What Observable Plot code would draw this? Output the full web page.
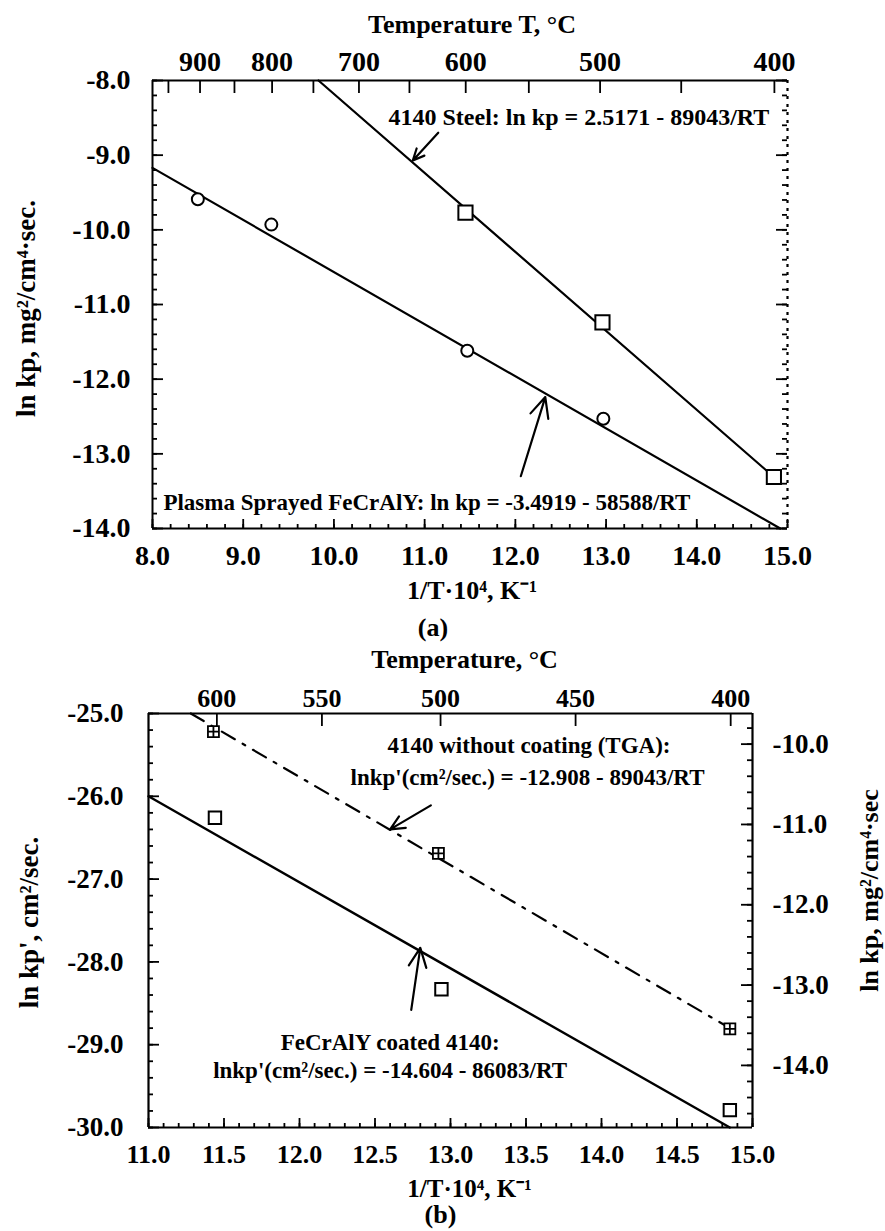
<!DOCTYPE html>
<html>
<head>
<meta charset="utf-8">
<script src="https://cdn.jsdelivr.net/npm/d3@7"></script>
<script src="https://cdn.jsdelivr.net/npm/@observablehq/plot@0.6"></script>
<style>
  html, body { margin: 0; padding: 0; background: #fff; }
  #wrap { position: relative; width: 885px; height: 1231px; background: #fff; overflow: hidden; }
  #wrap svg { position: absolute; left: 0; }
</style>
</head>
<body>
<div id="wrap"></div>
<script>
// ---------------- Panel (a) data ----------------
const aXTicks = [8, 9, 10, 11, 12, 13, 14, 15];
const aYTicks = [-8, -9, -10, -11, -12, -13, -14];
const aTempLabels = [900, 800, 700, 600, 500, 400];
const aTempTicks = [950, 900, 850, 800, 750, 700, 650, 600, 550, 500, 450, 400];
// Plasma sprayed FeCrAlY (circles)
const aFeX = [8.50, 9.31, 11.47, 12.97];
const aFeY = [-9.59, -9.93, -11.62, -12.53];
// 4140 steel (squares)
const aStX = [11.45, 12.96, 14.85];
const aStY = [-9.77, -11.24, -13.31];
// fitted lines (end points)
const aStFitX = [9.83, 14.85];
const aStFitY = [-8.0, -13.31];
const aFeFitX = [8.0, 14.92];
const aFeFitY = [-9.17, -14.0];
// leader arrows
const aArrows = [
  {x1: 11.15, y1: -8.70, x2: 10.87, y2: -9.07},
  {x1: 12.06, y1: -13.30, x2: 12.33, y2: -12.24}
];
const aNoteSteel = [{x: 14.80, y: -8.49, text: "4140 Steel: ln kp = 2.5171 - 89043/RT"}];
const aNoteFe = [{x: 8.12, y: -13.65, text: "Plasma Sprayed FeCrAlY: ln kp = -3.4919 - 58588/RT"}];

// ---------------- Panel (b) data ----------------
const bXTicks = [11, 11.5, 12, 12.5, 13, 13.5, 14, 14.5, 15];
const bYTicks = [-25, -26, -27, -28, -29, -30];
const bTempTicks = [600, 550, 500, 450, 400];
const bRightTicks = [-10, -11, -12, -13, -14];
// right axis read-off: right value -10 sits at left -25.37, right -14 at left -29.25
const bRightAnchorR = [-10, -14];
const bRightAnchorL = [-25.37, -29.25];
// 4140 without coating (TGA), crossed squares
const bTgaX = [11.43, 12.92, 14.85];
const bTgaY = [-25.22, -26.69, -28.81];
// FeCrAlY coated 4140, open squares
const bCoatX = [11.44, 12.94, 14.85];
const bCoatY = [-26.26, -28.33, -29.79];
const bTgaFitX = [11.28, 14.85];
const bTgaFitY = [-25.0, -28.80];
const bCoatFitX = [11.0, 14.85];
const bCoatFitY = [-26.0, -30.0];
const bArrows = [
  {x1: 12.87, y1: -26.11, x2: 12.60, y2: -26.40},
  {x1: 12.74, y1: -28.58, x2: 12.80, y2: -27.83}
];
const bNoteTga = [
  {x: 13.52, y: -25.39, text: "4140 without coating (TGA):"},
  {x: 13.51, y: -25.78, text: "lnkp'(cm²/sec.) = -12.908 - 89043/RT"}
];
const bNoteCoat = [
  {x: 12.60, y: -28.97, text: "FeCrAlY coated 4140:"},
  {x: 12.60, y: -29.31, text: "lnkp'(cm²/sec.) = -14.604 - 86083/RT"}
];

// ---------------- helpers ----------------
const tempToX = t => 1e4 / (t + 273.15);
const pairs = (xs, ys) => xs.map((x, i) => [x, ys[i]]);
const fmt1 = d => d.toFixed(1);
const FONT = "'Liberation Serif', 'Times New Roman', serif";
const crossedSquare = {
  draw(ctx, size) {
    const w = Math.sqrt(size) / 2;
    ctx.moveTo(-w, -w); ctx.lineTo(w, -w); ctx.lineTo(w, w); ctx.lineTo(-w, w); ctx.closePath();
    ctx.moveTo(-w, 0); ctx.lineTo(w, 0);
    ctx.moveTo(0, -w); ctx.lineTo(0, w);
  }
};
const wrap = document.getElementById("wrap");
const title = (s, o) => Plot.text([s], {text: d => d, lineAnchor: "middle", textAnchor: "middle", fontWeight: "bold", ...o});

// ---------------- Panel (a) ----------------
{
  const W = 885, H = 645, mt = 80, mb = 117, ml = 152, mr = 98;
  const FW = W - ml - mr, FH = H - mt - mb;
  const tempPos = new Map(aTempLabels.map(t => [tempToX(t), t]));
  const minorX = d3.range(8, 15.0001, 0.2);
  const minorY = d3.range(-14, -7.9999, 0.2);
  const plot = Plot.plot({
    width: W, height: H,
    marginTop: mt, marginBottom: mb, marginLeft: ml, marginRight: mr,
    x: {domain: [8, 15], label: null},
    y: {domain: [-14, -8], label: null},
    style: {fontFamily: FONT, fontSize: "28px", color: "black", background: "transparent", overflow: "visible"},
    marks: [
      // frame
      Plot.ruleY([-8], {strokeWidth: 2.2}),
      Plot.ruleY([-14], {strokeWidth: 2.2}),
      Plot.ruleX([8], {strokeWidth: 2}),
      Plot.ruleX([15], {strokeWidth: 2.2, strokeDasharray: "3,5"}),
      // ticks (inward)
      Plot.tickX(minorX, {insetTop: FH - 4, strokeWidth: 1.8}),
      Plot.tickX(aXTicks, {insetTop: FH - 9, strokeWidth: 1.8}),
      Plot.tickY(minorY, {insetRight: FW - 5, strokeWidth: 1.8}),
      Plot.tickY(aYTicks, {insetRight: FW - 11, strokeWidth: 1.8}),
      Plot.tickY(minorY, {insetLeft: FW - 5, strokeWidth: 1.8}),
      Plot.tickY(aYTicks, {insetLeft: FW - 11, strokeWidth: 1.8}),
      Plot.tickX(aTempTicks.map(tempToX), {insetBottom: FH - 13, strokeWidth: 1.8}),
      // axis labels
      Plot.axisX(aXTicks, {anchor: "bottom", tickSize: 0, tickPadding: 17, tickFormat: fmt1, fontSize: 28, fontWeight: "bold", label: null}),
      Plot.axisY(aYTicks, {anchor: "left", tickSize: 0, tickPadding: 22, tickFormat: fmt1, fontSize: 28, fontWeight: "bold", label: null}),
      Plot.axisX(aTempLabels.map(tempToX), {anchor: "top", tickSize: 0, tickPadding: 10, tickFormat: d => String(tempPos.get(d)), fontSize: 28, fontWeight: "bold", label: null}),
      // titles
      title("Temperature T, °C", {frameAnchor: "top", dy: -56, dx: 2, fontSize: 26}),
      title("1/T·10⁴, K⁻¹", {frameAnchor: "bottom", dy: 62, dx: 2, fontSize: 26}),
      title("(a)", {frameAnchor: "bottom", dy: 99, dx: -37, fontSize: 26}),
      title("ln kp, mg²/cm⁴·sec.", {frameAnchor: "left", rotate: -90, dx: -126, dy: 4, fontSize: 27}),
      // fitted lines
      Plot.line(pairs(aStFitX, aStFitY), {strokeWidth: 2.2}),
      Plot.line(pairs(aFeFitX, aFeFitY), {strokeWidth: 2.2}),
      // data points
      Plot.dot(pairs(aFeX, aFeY), {symbol: "circle", r: 6, stroke: "black", fill: "white", strokeWidth: 2}),
      Plot.dot(pairs(aStX, aStY), {symbol: "square", r: 8, stroke: "black", fill: "white", strokeWidth: 2}),
      // arrows
      Plot.arrow(aArrows, {x1: "x1", y1: "y1", x2: "x2", y2: "y2", headLength: 15, headAngle: 50, strokeWidth: 2.2}),
      // annotations
      Plot.text(aNoteSteel, {x: "x", y: "y", text: "text", textAnchor: "end", fontSize: 24, fontWeight: "bold"}),
      Plot.text(aNoteFe, {x: "x", y: "y", text: "text", textAnchor: "start", fontSize: 23, fontWeight: "bold"})
    ]
  });
  plot.style.top = "0px";
  wrap.appendChild(plot);
}

// ---------------- Panel (b) ----------------
{
  const W = 885, H = 586, mt = 68, mb = 104, ml = 148, mr = 133;
  const FW = W - ml - mr, FH = H - mt - mb;
  const slope = (bRightAnchorL[1] - bRightAnchorL[0]) / (bRightAnchorR[1] - bRightAnchorR[0]);
  const rToL = r => bRightAnchorL[0] + (r - bRightAnchorR[0]) * slope;
  const rightPos = new Map(bRightTicks.map(r => [rToL(r), r]));
  const tempPos = new Map(bTempTicks.map(t => [tempToX(t), t]));
  const minorX = d3.range(11, 15.0001, 0.1);
  const minorY = d3.range(-30, -24.9999, 0.2);
  const minorR = d3.range(-14.6, -9.6, 0.2).map(rToL).filter(v => v >= -30 && v <= -25);
  const plot = Plot.plot({
    width: W, height: H,
    marginTop: mt, marginBottom: mb, marginLeft: ml, marginRight: mr,
    x: {domain: [11, 15], label: null},
    y: {domain: [-30, -25], label: null},
    style: {fontFamily: FONT, fontSize: "26px", color: "black", background: "transparent", overflow: "visible"},
    marks: [
      // frame
      Plot.ruleY([-25], {strokeWidth: 2.2}),
      Plot.ruleY([-30], {strokeWidth: 2.2}),
      Plot.ruleX([11], {strokeWidth: 2.2}),
      Plot.ruleX([15], {strokeWidth: 2.2}),
      // ticks (inward)
      Plot.tickX(minorX, {insetTop: FH - 4, strokeWidth: 1.8}),
      Plot.tickX(bXTicks, {insetTop: FH - 9, strokeWidth: 1.8}),
      Plot.tickY(minorY, {insetRight: FW - 5, strokeWidth: 1.8}),
      Plot.tickY(bYTicks, {insetRight: FW - 11, strokeWidth: 1.8}),
      Plot.tickY(minorR, {insetLeft: FW - 5, strokeWidth: 1.8}),
      Plot.tickY(bRightTicks.map(rToL), {insetLeft: FW - 11, strokeWidth: 1.8}),
      Plot.tickX(bTempTicks.map(tempToX), {insetBottom: FH - 13, strokeWidth: 1.8}),
      // axis labels
      Plot.axisX(bXTicks, {anchor: "bottom", tickSize: 0, tickPadding: 17, tickFormat: fmt1, fontSize: 26, fontWeight: "bold", label: null}),
      Plot.axisY(bYTicks, {anchor: "left", tickSize: 0, tickPadding: 25, tickFormat: fmt1, fontSize: 27, fontWeight: "bold", label: null}),
      Plot.axisY(bRightTicks.map(rToL), {anchor: "right", tickSize: 0, tickPadding: 20, tickFormat: d => fmt1(rightPos.get(d)), fontSize: 27, fontWeight: "bold", label: null}),
      Plot.axisX(bTempTicks.map(tempToX), {anchor: "top", tickSize: 0, tickPadding: 7, tickFormat: d => String(tempPos.get(d)), fontSize: 26, fontWeight: "bold", label: null}),
      // titles
      title("Temperature, °C", {frameAnchor: "top", dy: -54, dx: 14, fontSize: 26}),
      title("1/T·10⁴, K⁻¹", {frameAnchor: "bottom", dy: 61, dx: 19, fontSize: 25}),
      title("(b)", {frameAnchor: "bottom", dy: 87, dx: -10, fontSize: 26}),
      title("ln kp', cm²/sec.", {frameAnchor: "left", rotate: -90, dx: -119, dy: 2, fontSize: 27}),
      title("ln kp, mg²/cm⁴·sec", {frameAnchor: "right", rotate: -90, dx: 117, dy: -30, fontSize: 26}),
      // fitted lines
      Plot.line(pairs(bTgaFitX, bTgaFitY), {strokeWidth: 2.2, strokeDasharray: "15,9,3,9"}),
      Plot.line(pairs(bCoatFitX, bCoatFitY), {strokeWidth: 2.4}),
      // data points
      Plot.dot(pairs(bTgaX, bTgaY), {symbol: crossedSquare, r: 6.2, stroke: "black", fill: "white", strokeWidth: 1.8}),
      Plot.dot(pairs(bCoatX, bCoatY), {symbol: "square", r: 7, stroke: "black", fill: "white", strokeWidth: 2}),
      // arrows
      Plot.arrow(bArrows, {x1: "x1", y1: "y1", x2: "x2", y2: "y2", headLength: 15, headAngle: 50, strokeWidth: 2.2}),
      // annotations
      Plot.text(bNoteTga, {x: "x", y: "y", text: "text", textAnchor: "middle", fontSize: 23, fontWeight: "bold"}),
      Plot.text(bNoteCoat, {x: "x", y: "y", text: "text", textAnchor: "middle", fontSize: 23, fontWeight: "bold"})
    ]
  });
  plot.style.top = "645px";
  wrap.appendChild(plot);
}
</script>
</body>
</html>
